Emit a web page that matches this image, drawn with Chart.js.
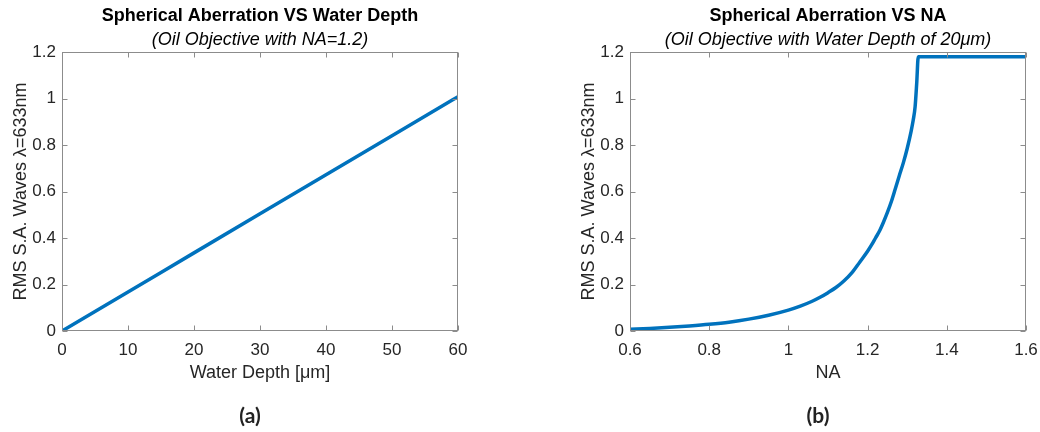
<!DOCTYPE html>
<html>
<head>
<meta charset="utf-8">
<script src="https://cdn.jsdelivr.net/npm/chart.js@4"></script>
<style>
  html, body { margin: 0; padding: 0; background: #fff; }
  #wrap { position: relative; width: 1040px; height: 432px; overflow: hidden; }
  canvas { position: absolute; top: 0; }
  #depthChart { left: 0; }
  #naChart { left: 520px; }
  .caption {
    position: absolute; top: 402px; width: 60px; margin-left: -30px;
    text-align: center; font: bold 21px Lato, "Open Sans", sans-serif; color: #222;
  }
</style>
</head>
<body>
<div id="wrap">
  <canvas id="depthChart" width="520" height="432"></canvas>
  <canvas id="naChart" width="520" height="432"></canvas>
  <div class="caption" style="left:250px">(a)</div>
  <div class="caption" style="left:818px">(b)</div>
</div>
<script>
// (a) RMS spherical aberration against water depth, NA = 1.2
const depthUm = [0, 10, 20, 30, 40, 50, 60];
const depthRms = [0, 0.168, 0.336, 0.504, 0.672, 0.84, 1.008];

// (b) RMS spherical aberration against NA, 20 um of water
const naValues = [0.6, 0.65, 0.7, 0.75, 0.8, 0.85, 0.9, 0.95, 1.0, 1.03, 1.06, 1.08,
  1.1, 1.12, 1.14, 1.16, 1.18, 1.2, 1.21, 1.22, 1.23, 1.24, 1.25, 1.26, 1.27, 1.28,
  1.29, 1.3, 1.31, 1.315, 1.32, 1.324, 1.328, 1.6];
const naRms = [0.007, 0.011, 0.016, 0.022, 0.029, 0.038, 0.051, 0.068, 0.09, 0.107, 0.128, 0.145,
  0.165, 0.187, 0.215, 0.25, 0.296, 0.343, 0.37, 0.4, 0.43, 0.468, 0.51, 0.557, 0.612, 0.668,
  0.722, 0.785, 0.86, 0.905, 0.965, 1.065, 1.18, 1.18];

const yLabel = "RMS S.A. Waves \u03bb=633nm";
const LINE_BLUE = "#0072bd";
const AXIS_GRAY = "#8c8c8c";
const TEXT = "#262626";
const FONT = "'Liberation Sans', Arial, Helvetica, sans-serif";

// tick text like MATLAB: 1 instead of 1.0
const plainTick = (v) => String(Math.round(v * 100) / 100);

// MATLAB-style box with inward tick marks on all four sides
const boxTicks = {
  id: "boxTicks",
  afterDraw(chart) {
    const { ctx, chartArea: a, scales } = chart;
    const len = 5;
    ctx.save();
    ctx.strokeStyle = AXIS_GRAY;
    ctx.lineWidth = 1;
    const L = Math.round(a.left) + 0.5, R = Math.round(a.right) - 0.5;
    const T = Math.round(a.top) + 0.5, B = Math.round(a.bottom) - 0.5;
    ctx.strokeRect(L, T, R - L, B - T);
    ctx.beginPath();
    scales.x.ticks.forEach((t) => {
      const px = Math.round(scales.x.getPixelForValue(t.value)) + 0.5;
      ctx.moveTo(px, B); ctx.lineTo(px, B - len);
      ctx.moveTo(px, T); ctx.lineTo(px, T + len);
    });
    scales.y.ticks.forEach((t) => {
      const py = Math.round(scales.y.getPixelForValue(t.value)) + 0.5;
      ctx.moveTo(L, py); ctx.lineTo(L + len, py);
      ctx.moveTo(R, py); ctx.lineTo(R - len, py);
    });
    ctx.stroke();
    ctx.restore();
  },
};

function buildChart(canvas, opts) {
  return new Chart(canvas, {
    type: "line",
    data: {
      datasets: [{
        data: opts.xs.map((x, i) => ({ x, y: opts.ys[i] })),
        borderColor: LINE_BLUE,
        borderWidth: 3.5,
        pointRadius: 0,
        cubicInterpolationMode: "monotone",
        fill: false,
      }],
    },
    options: {
      responsive: false,
      animation: false,
      layout: { padding: { left: opts.padLeft, right: opts.padRight, top: 0, bottom: 41 } },
      plugins: {
        legend: { display: false },
        tooltip: { enabled: false },
        title: {
          display: true,
          text: opts.title,
          fullSize: false,
          color: "#000",
          font: { family: FONT, size: 18, weight: "bold", lineHeight: 1.2 },
          padding: { top: 5, bottom: 0 },
        },
        subtitle: {
          display: true,
          text: opts.subtitle,
          fullSize: false,
          color: "#000",
          font: { family: FONT, size: 18, style: "italic", lineHeight: 1.2 },
          padding: { top: 2.6, bottom: 1.2 },
        },
      },
      scales: {
        x: {
          type: "linear",
          min: opts.xMin,
          max: opts.xMax,
          afterFit: (s) => { s.height = 60; s.paddingLeft = 0; s.paddingRight = 0; },
          grid: { display: false, drawTicks: false },
          border: { display: false },
          ticks: { stepSize: opts.xStep, color: TEXT, padding: 9, maxRotation: 0,
            callback: plainTick, font: { family: FONT, size: 17 } },
          title: { display: true, text: opts.xTitle, color: TEXT,
            font: { family: FONT, size: 18, lineHeight: 1.2 }, padding: { top: 0, bottom: 7 } },
        },
        y: {
          min: 0,
          max: 1.2,
          afterFit: (s) => { s.width = 62; s.paddingTop = 0; s.paddingBottom = 0; },
          grid: { display: false, drawTicks: false },
          border: { display: false },
          ticks: { stepSize: 0.2, color: TEXT, padding: 6, callback: plainTick,
            font: { family: FONT, size: 17 } },
          title: { display: true, text: yLabel, color: TEXT,
            font: { family: FONT, size: 18, lineHeight: 1.2 }, padding: { top: 10.5, bottom: 0 } },
        },
      },
    },
    plugins: [boxTicks],
  });
}

buildChart(document.getElementById("depthChart"), {
  xs: depthUm, ys: depthRms,
  xMin: 0, xMax: 60, xStep: 10,
  padLeft: 0, padRight: 62,
  title: "Spherical Aberration VS Water Depth",
  subtitle: "(Oil Objective with NA=1.2)",
  xTitle: "Water Depth [\u03bcm]",
});

buildChart(document.getElementById("naChart"), {
  xs: naValues, ys: naRms,
  xMin: 0.6, xMax: 1.6, xStep: 0.2,
  padLeft: 48, padRight: 14,
  title: "Spherical Aberration VS NA",
  subtitle: "(Oil Objective with Water Depth of 20\u03bcm)",
  xTitle: "NA",
});
</script>
</body>
</html>
